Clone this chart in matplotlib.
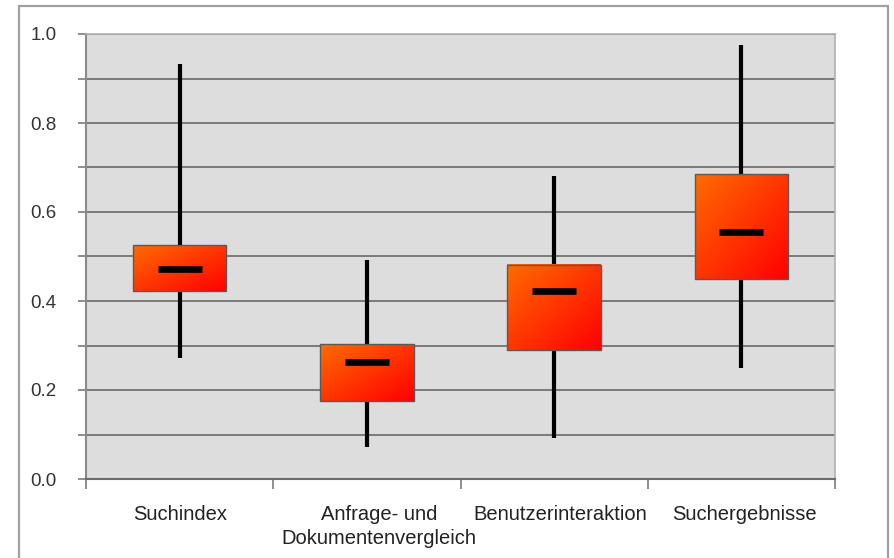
import matplotlib
matplotlib.use("Agg")
import matplotlib.pyplot as plt
from matplotlib.patches import Rectangle
from matplotlib.ticker import MultipleLocator
from matplotlib.transforms import ScaledTranslation
import numpy as np

plt.rcParams['font.family'] = ['Liberation Sans', 'DejaVu Sans']

categories = ["Suchindex", "Anfrage- und\nDokumentenvergleich",
              "Benutzerinteraktion", "Suchergebnisse"]
low = [0.272, 0.072, 0.092, 0.250]
q1 = [0.423, 0.176, 0.290, 0.450]
median = [0.473, 0.264, 0.423, 0.556]
q3 = [0.525, 0.304, 0.482, 0.685]
high = [0.932, 0.493, 0.680, 0.975]

box_w = 0.5
med_w = 0.235

fig = plt.figure(figsize=(8.94, 5.58), dpi=100)
fig.patch.set_facecolor("white")
ax = fig.add_axes([86 / 894, 79 / 558, 749 / 894, 445 / 558])
ax.set_facecolor("#dddddd")

# outer frame
fig.patches.append(Rectangle((19 / 894, -0.05), 869 / 894, 0.05 + 552 / 558,
                             transform=fig.transFigure, fill=False,
                             edgecolor="#a0a0a0", linewidth=1.6, zorder=0))

# grid every 0.1
ax.yaxis.set_major_locator(MultipleLocator(0.2))
ax.yaxis.set_minor_locator(MultipleLocator(0.1))
ax.grid(True, axis="y", which="both", color="#7a7a7a", linewidth=1.4, zorder=1)
ax.set_axisbelow(True)
ax.set_yticks([0.0, 0.2, 0.4, 0.6, 0.8, 1.0])
ax.set_yticklabels(["0.0", "0.2", "0.4", "0.6", "0.8", "1.0"])
ax.tick_params(axis="y", which="both", length=6, width=1.2, color="#7a7a7a",
               labelsize=13.5, labelcolor="#333333", pad=15)

# gradient image (orange top-left -> red bottom-right)
n = 64
u, v = np.meshgrid(np.linspace(0, 1, n), np.linspace(0, 1, n))
t = (u + v) / 2
grad = np.zeros((n, n, 3))
grad[..., 0] = 1.0
grad[..., 1] = 0.42 * (1 - t)
grad[..., 2] = 0.0

x = np.arange(len(categories))
for i in range(len(categories)):
    ax.plot([x[i], x[i]], [low[i], high[i]], color="black", linewidth=3.0,
            solid_capstyle="butt", zorder=2)
    ax.imshow(grad, extent=(x[i] - box_w / 2, x[i] + box_w / 2, q1[i], q3[i]),
              origin="upper", aspect="auto", zorder=3, interpolation="bilinear")
    ax.add_patch(Rectangle((x[i] - box_w / 2, q1[i]), box_w, q3[i] - q1[i],
                           fill=False, edgecolor="#5a5a5a", linewidth=1.0, zorder=4))
    ax.plot([x[i] - med_w / 2, x[i] + med_w / 2], [median[i], median[i]],
            color="black", linewidth=4.8, solid_capstyle="butt", zorder=5)

ax.set_xlim(-0.5, len(categories) - 0.5)
ax.set_ylim(0, 1.0)

ax.set_xticks(x)
ax.set_xticklabels(categories, fontsize=14.5, color="#222222", linespacing=1.3)
ax.set_xticks(np.arange(len(categories) + 1) - 0.5, minor=True)
ax.tick_params(axis="x", which="major", length=0, pad=19)
ax.tick_params(axis="x", which="minor", length=7, width=1.2, color="#7a7a7a")

# small horizontal shifts of the category labels, as in the original
shifts = [1, 12, 6, 3]
for lab, dx in zip(ax.get_xticklabels(), shifts):
    lab.set_transform(lab.get_transform() + ScaledTranslation(dx / 100, 0, fig.dpi_scale_trans))

for side in ["top", "right"]:
    ax.spines[side].set_color("#b0b0b0")
    ax.spines[side].set_linewidth(1.2)
ax.spines["left"].set_color("#8a8a8a")
ax.spines["left"].set_linewidth(1.5)
ax.spines["bottom"].set_color("#6a6a6a")
ax.spines["bottom"].set_linewidth(1.5)

fig.savefig("out.png", dpi=100)
